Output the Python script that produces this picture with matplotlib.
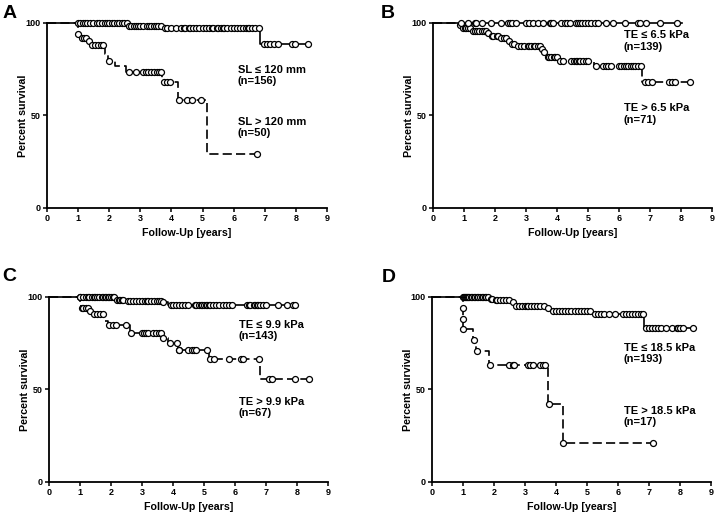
import matplotlib.pyplot as plt
import numpy as np

plt.rcParams['font.family'] = ['Liberation Sans', 'DejaVu Sans']
plt.rcParams['font.weight'] = 'bold'

# ---- Panel A: SL <= 120 mm (solid) / SL > 120 mm (dashed)
a1_evt_t = [2.58, 3.72, 6.85]
a1_evt_s = [98.4, 97.0, 88.5]
a1_cens = [1.0, 1.06, 1.15, 1.23, 1.3, 1.38, 1.47, 1.6, 1.68, 1.78, 1.87, 1.92, 2.0,
           2.08, 2.15, 2.24, 2.31, 2.4, 2.48, 2.56,
           2.62, 2.7, 2.78, 2.85, 2.93, 3.0, 3.1, 3.2, 3.28, 3.35, 3.43, 3.5, 3.58, 3.65,
           3.8, 3.87, 4.0, 4.15, 4.3, 4.4, 4.45, 4.55, 4.6, 4.7, 4.8, 4.9, 5.0, 5.1, 5.2,
           5.3, 5.35, 5.45, 5.5, 5.6, 5.65, 5.7, 5.8, 5.9, 6.0, 6.1, 6.2, 6.3, 6.4, 6.45,
           6.5, 6.6, 6.7, 6.8,
           6.96, 7.06, 7.17, 7.28, 7.42, 7.87, 7.97, 8.4]
a2_evt_t = [0.98, 1.08, 1.3, 1.4, 1.85, 1.97, 2.2, 2.55, 3.7, 4.2, 5.15]
a2_evt_s = [94.0, 92.0, 90.0, 87.8, 83.0, 79.5, 76.5, 73.7, 68.3, 58.6, 29.1]
a2_cens = [1.0, 1.12, 1.2, 1.26, 1.35, 1.45, 1.55, 1.65, 1.75, 1.8, 2.0,
           2.62, 2.85, 3.1, 3.18, 3.25, 3.35, 3.45, 3.55, 3.6, 3.65,
           3.75, 3.85, 3.95, 4.25, 4.5, 4.65, 4.95, 6.75]

# ---- Panel B: TE <= 6.5 kPa (solid) / TE > 6.5 kPa (dashed)
b1_evt_t = []
b1_evt_s = []
b1_cens = [0.89, 1.13, 1.34, 1.4, 1.58, 1.88, 2.18, 2.42, 2.5, 2.55, 2.69, 3.01, 3.09,
           3.23, 3.39, 3.55, 3.76, 3.82, 3.87, 4.12, 4.27, 4.33, 4.41, 4.62, 4.68, 4.73,
           4.81, 4.89, 5.0, 5.11, 5.22, 5.32, 5.59, 5.81, 6.18, 6.61, 6.67, 6.88, 7.31,
           7.86]
b1_end = 8.03
b2_evt_t = [0.85, 0.95, 1.25, 1.75, 1.85, 2.15, 2.4, 2.5, 2.7, 3.5, 3.56, 3.65, 4.05,
            5.2, 6.75]
b2_evt_s = [98.6, 97.2, 95.8, 94.4, 93.0, 91.6, 90.1, 88.7, 87.3, 85.8, 84.3, 81.4,
            79.5, 76.7, 68.2]
b2_cens = [0.88, 0.97, 1.02, 1.07, 1.12, 1.18, 1.3, 1.35, 1.42, 1.5, 1.58, 1.65, 1.7,
           1.78, 1.9, 1.95, 2.05, 2.1, 2.2, 2.3, 2.35, 2.45, 2.55, 2.62,
           2.75, 2.85, 2.95, 3.05, 3.1, 3.15, 3.25, 3.3, 3.4, 3.45, 3.52, 3.58,
           3.7, 3.75, 3.8, 3.9, 3.95, 4.0,
           4.1, 4.2, 4.45, 4.55, 4.6, 4.65, 4.7, 4.75, 4.85, 4.95, 5.0,
           5.25, 5.5, 5.57, 5.65, 5.75, 6.0, 6.08, 6.15, 6.23, 6.3, 6.38, 6.45, 6.53,
           6.6, 6.7,
           6.85, 6.95, 7.05, 7.6, 7.7, 7.8, 8.3]

# ---- Panel C: TE <= 9.9 kPa (solid) / TE > 9.9 kPa (dashed)
c1_evt_t = [2.15, 2.5, 3.65, 3.85]
c1_evt_s = [98.6, 97.9, 97.2, 95.5]
c1_cens = [1.0, 1.1, 1.2, 1.25, 1.3, 1.38, 1.45, 1.5, 1.55, 1.6, 1.7, 1.75, 1.8, 1.85,
           1.9, 1.95, 2.0, 2.05, 2.1,
           2.2, 2.25, 2.3, 2.35, 2.4,
           2.55, 2.6, 2.7, 2.8, 2.9, 3.0, 3.1, 3.15, 3.2, 3.3, 3.4, 3.5, 3.55, 3.6,
           3.68,
           3.95, 4.0, 4.1, 4.2, 4.3, 4.4, 4.5, 4.7, 4.75, 4.85, 4.9, 4.95, 5.0, 5.05,
           5.1, 5.15, 5.2, 5.3, 5.4, 5.5, 5.6, 5.7, 5.8, 5.9, 6.4, 6.45, 6.5, 6.6,
           6.65, 6.7, 6.75, 6.8, 6.9, 7.0, 7.4, 7.67, 7.88, 7.95]
c2_evt_t = [1.0, 1.04, 1.28, 1.4, 1.8, 1.9, 2.6, 3.66, 3.85, 4.16, 5.15, 6.82]
c2_evt_s = [95.5, 94.0, 92.5, 90.5, 87.0, 85.0, 80.5, 78.0, 75.0, 71.5, 66.5, 55.5]
c2_cens = [0.995, 1.05, 1.1, 1.18, 1.25, 1.32, 1.45, 1.55, 1.65, 1.75,
           1.95, 2.05, 2.15, 2.5,
           2.65, 3.0, 3.05, 3.12, 3.2, 3.35, 3.45, 3.55, 3.62, 3.68,
           3.9, 4.12, 4.18, 4.2, 4.5, 4.6, 4.68, 4.75, 5.1,
           5.18, 5.32, 5.8, 6.18, 6.25, 6.77,
           7.1, 7.2, 7.95, 8.4]

# ---- Panel D: TE <= 18.5 kPa (solid) / TE > 18.5 kPa (dashed)
d1_evt_t = [1.85, 2.0, 2.55, 2.65, 3.7, 3.8, 5.15, 6.85]
d1_evt_s = [99.0, 98.2, 97.2, 95.3, 93.8, 92.6, 90.5, 83.0]
d1_cens = [1.0, 1.03, 1.06, 1.1, 1.13, 1.17, 1.2, 1.25, 1.3, 1.35, 1.4, 1.45, 1.5,
           1.55, 1.6, 1.65, 1.7, 1.75, 1.8, 1.9, 1.95,
           2.05, 2.1, 2.2, 2.3, 2.4, 2.5, 2.6,
           2.7, 2.8, 2.9, 3.0, 3.05, 3.1, 3.2, 3.3, 3.4, 3.5, 3.6, 3.75,
           3.9, 4.0, 4.1, 4.2, 4.3, 4.4, 4.5, 4.6, 4.7, 4.8, 4.9, 5.0, 5.1,
           5.25, 5.35, 5.45, 5.55, 5.7, 5.9, 6.15, 6.25, 6.35, 6.45, 6.55, 6.65, 6.75,
           6.8,
           6.9, 7.0, 7.1, 7.2, 7.3, 7.4, 7.55, 7.75, 7.9, 7.95, 8.0, 8.1, 8.42]
d2_evt_t = [0.99, 1.0, 1.01, 1.33, 1.43, 1.84, 3.74, 4.22]
d2_evt_s = [94.1, 88.2, 82.4, 76.5, 70.6, 63.2, 42.0, 21.0]
d2_cens = [0.995, 1.005, 1.015, 1.37, 1.46, 1.86, 2.5, 2.6, 2.66, 3.09, 3.17, 3.25,
           3.47, 3.58, 3.66, 3.77, 4.23, 7.12]

panels = [
    ('A', [0.0656, 0.5977, 0.3905, 0.358],
     (a1_evt_t, a1_evt_s, a1_cens, None), (a2_evt_t, a2_evt_s, a2_cens, None),
     ('SL ≤ 120 mm\n(n=156)', 6.13, 77.5), ('SL > 120 mm\n(n=50)', 6.13, 49.0)),
    ('B', [0.6039, 0.5977, 0.3891, 0.358],
     (b1_evt_t, b1_evt_s, b1_cens, b1_end), (b2_evt_t, b2_evt_s, b2_cens, None),
     ('TE ≤ 6.5 kPa\n(n=139)', 6.15, 96.0), ('TE > 6.5 kPa\n(n=71)', 6.15, 56.5)),
    ('C', [0.0683, 0.0677, 0.3891, 0.358],
     (c1_evt_t, c1_evt_s, c1_cens, None), (c2_evt_t, c2_evt_s, c2_cens, None),
     ('TE ≤ 9.9 kPa\n(n=143)', 6.12, 87.5), ('TE > 9.9 kPa\n(n=67)', 6.12, 46.0)),
    ('D', [0.6025, 0.0677, 0.3891, 0.358],
     (d1_evt_t, d1_evt_s, d1_cens, None), (d2_evt_t, d2_evt_s, d2_cens, None),
     ('TE ≤ 18.5 kPa\n(n=193)', 6.18, 75.0), ('TE > 18.5 kPa\n(n=17)', 6.18, 41.0)),
]
letter_pos = {'A': (0.003, 0.99), 'B': (0.531, 0.99), 'C': (0.003, 0.481), 'D': (0.533, 0.479)}


def km(ax, evt_t, evt_s, cens, end, dashed):
    if end is None:
        end = max(list(evt_t) + list(cens))
    t = [0.0] + list(evt_t) + [end]
    s = [100.0] + list(evt_s) + [evt_s[-1] if len(evt_s) else 100.0]
    line, = ax.plot(t, s, drawstyle='steps-post', color='black', lw=1.2,
                    clip_on=False, zorder=2 if dashed else 3)
    if dashed:
        line.set_dashes((5.5, 2.5))
    idx = np.searchsorted(np.array(t[:-1]), cens, side='right') - 1
    cy = np.array(s)[idx]
    ax.plot(cens, cy, 'o', ms=4.3, mfc='white', mec='black', mew=0.9,
            clip_on=False, zorder=4)


fig = plt.figure(figsize=(7.17, 5.17), dpi=100)
for letter, rect, g1, g2, txt1, txt2 in panels:
    ax = fig.add_axes(rect)
    km(ax, *g2, dashed=True)
    km(ax, *g1, dashed=False)
    ax.set_xlim(0, 9)
    ax.set_ylim(0, 100)
    ax.set_xticks(range(10))
    ax.set_yticks([0, 50, 100])
    for sp in ['top', 'right']:
        ax.spines[sp].set_visible(False)
    for sp in ['left', 'bottom']:
        ax.spines[sp].set_linewidth(1.3)
    ax.tick_params(direction='out', length=3, width=1.1, labelsize=6.5, pad=1.5)
    ax.set_xlabel('Follow-Up [years]', fontsize=7.7, fontweight='bold')
    ax.set_ylabel('Percent survival', fontsize=7.7, fontweight='bold')
    ax.xaxis.set_label_coords(0.5, -0.11)
    ax.yaxis.set_label_coords(-0.068, 0.5)
    for lab in ax.get_xticklabels() + ax.get_yticklabels():
        lab.set_fontweight('bold')
    for txt, x, y in (txt1, txt2):
        ax.text(x, y, txt, fontsize=8, fontweight='bold', ha='left', va='top',
                linespacing=1.15)
    lx, ly = letter_pos[letter]
    fig.text(lx, ly, letter, fontsize=14, fontweight='bold', ha='left', va='top')

fig.savefig('out.png', dpi=100)
